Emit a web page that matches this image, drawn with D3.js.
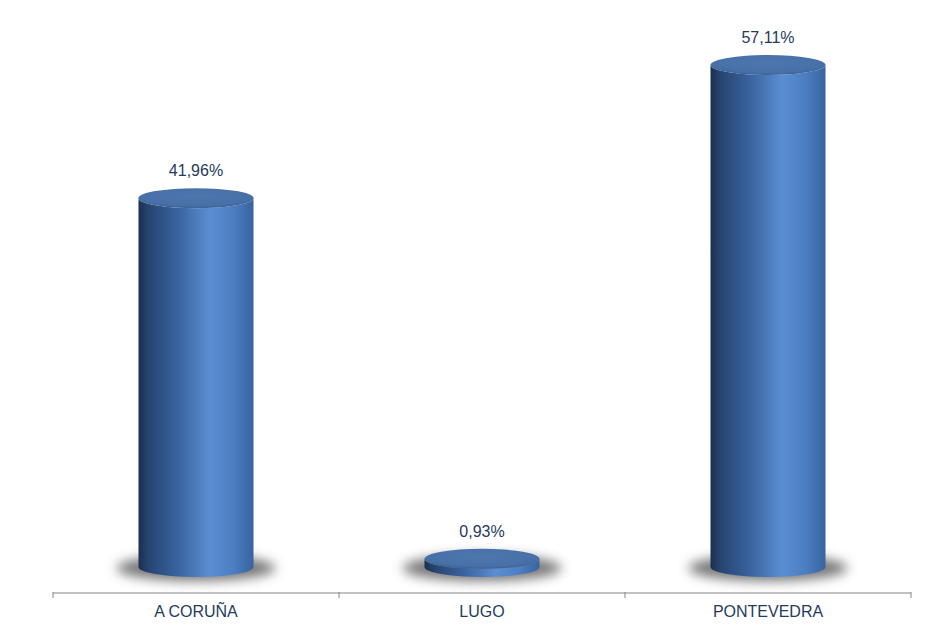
<!DOCTYPE html>
<html>
<head>
<meta charset="utf-8">
<script src="https://cdn.jsdelivr.net/npm/d3@7"></script>
<style>
  body { margin: 0; background: #fff; }
  svg { display: block; font-family: "Liberation Sans", Arial, sans-serif; }
</style>
</head>
<body>
<script>
// Datos
const provincias = ['A CORUÑA', 'LUGO', 'PONTEVEDRA'];
const porcentajes = [41.96, 0.93, 57.11];
const etiquetas = ['41,96%', '0,93%', '57,11%'];

const width = 947, height = 627;
const svg = d3.select('body').append('svg')
    .attr('width', width)
    .attr('height', height);

const x = d3.scaleBand()
    .domain(provincias)
    .range([53, 911]);

const y = d3.scaleLinear()
    .domain([0, 60])
    .range([567, 39.6]);

const defs = svg.append('defs');

// Degradado del cuerpo del cilindro
const grad = defs.append('linearGradient')
    .attr('id', 'cuerpo')
    .attr('x1', '0%').attr('x2', '100%')
    .attr('y1', '0%').attr('y2', '0%');
[['0%', '#1b2f4e'], ['8%', '#26436f'], ['35%', '#3a64a0'], ['62%', '#5a8ed2'], ['82%', '#4c7fc2'], ['100%', '#3763a0']]
    .forEach(s => grad.append('stop').attr('offset', s[0]).attr('stop-color', s[1]));

// Degradado de la tapa
const tapa = defs.append('radialGradient')
    .attr('id', 'tapa')
    .attr('cx', '50%').attr('cy', '40%').attr('r', '60%');
[['0%', '#4d77ad'], ['80%', '#4770a8'], ['100%', '#3b6296']]
    .forEach(s => tapa.append('stop').attr('offset', s[0]).attr('stop-color', s[1]));

// Sombra
defs.append('filter')
    .attr('id', 'blur')
    .attr('x', '-50%').attr('y', '-100%')
    .attr('width', '200%').attr('height', '300%')
    .append('feGaussianBlur')
    .attr('stdDeviation', 6);

const rx = 57.5, ry = 10;
const base = y(0);

const g = svg.append('g');

const barras = g.selectAll('.barra')
    .data(provincias.map((p, i) => ({ p, v: porcentajes[i], t: etiquetas[i] })))
    .enter()
    .append('g')
    .attr('class', 'barra');

barras.append('ellipse')
    .attr('cx', d => x(d.p) + x.bandwidth() / 2)
    .attr('cy', base + 1)
    .attr('rx', rx + 22)
    .attr('ry', ry + 3)
    .attr('fill', '#4a4a4a')
    .attr('opacity', 0.75)
    .attr('filter', 'url(#blur)');

barras.append('path')
    .attr('fill', 'url(#cuerpo)')
    .attr('d', d => {
        const cx = x(d.p) + x.bandwidth() / 2;
        const top = y(d.v);
        return `M${cx - rx},${top} L${cx - rx},${base} ` +
            `A${rx},${ry} 0 0 0 ${cx + rx},${base} ` +
            `L${cx + rx},${top} A${rx},${ry} 0 0 1 ${cx - rx},${top} Z`;
    });

barras.append('ellipse')
    .attr('cx', d => x(d.p) + x.bandwidth() / 2)
    .attr('cy', d => y(d.v))
    .attr('rx', rx)
    .attr('ry', ry)
    .attr('fill', 'url(#tapa)');

barras.append('text')
    .attr('x', d => x(d.p) + x.bandwidth() / 2)
    .attr('y', d => y(d.v) - 22)
    .attr('text-anchor', 'middle')
    .attr('font-size', 16)
    .attr('fill', '#243b5c')
    .text(d => d.t);

// Eje X
const eje = svg.append('g')
    .attr('transform', 'translate(0,593)');

eje.append('line')
    .attr('x1', 53).attr('x2', 911)
    .attr('stroke', '#868686')
    .attr('stroke-width', 1);

const limites = [0, 1, 2, 3].map(i => 53 + i * x.bandwidth());
eje.selectAll('.tick')
    .data(limites)
    .enter()
    .append('line')
    .attr('x1', d => d).attr('x2', d => d)
    .attr('y1', -1).attr('y2', 5)
    .attr('stroke', '#868686');

eje.selectAll('.cat')
    .data(provincias)
    .enter()
    .append('text')
    .attr('x', d => x(d) + x.bandwidth() / 2)
    .attr('y', 24)
    .attr('text-anchor', 'middle')
    .attr('font-size', 16)
    .attr('fill', '#243b5c')
    .text(d => d);
</script>
</body>
</html>
